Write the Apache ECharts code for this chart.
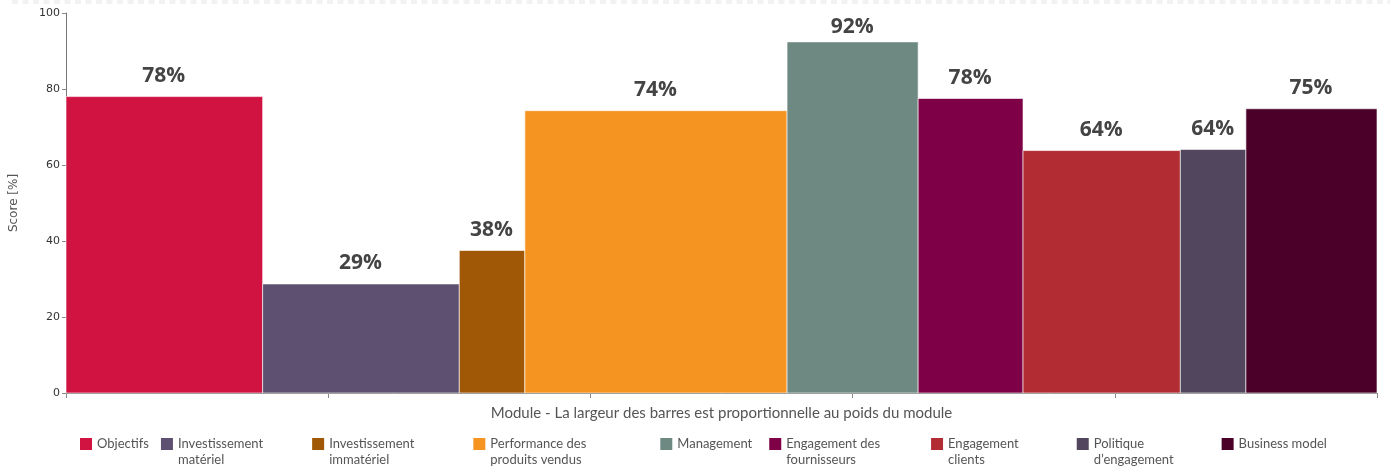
<!DOCTYPE html>
<html>
<head>
<meta charset="utf-8">
<script src="https://cdn.jsdelivr.net/npm/echarts@6/dist/echarts.min.js"></script>
<style>
  html, body { margin: 0; padding: 0; background: #fff; }
  #chart { width: 1390px; height: 468px; }
</style>
</head>
<body>
<div id="chart"></div>
<script>
// modules, weight (bar width, %) and score (%)
var modules = ['Objectifs', 'Investissement matériel', 'Investissement immatériel',
  'Performance des produits vendus', 'Management', 'Engagement des fournisseurs',
  'Engagement clients', 'Politique d\u2019engagement', 'Business model'];
var legendLines = [['Objectifs', ''], ['Investissement', 'matériel'], ['Investissement', 'immatériel'],
  ['Performance des', 'produits vendus'], ['Management', ''], ['Engagement des', 'fournisseurs'],
  ['Engagement', 'clients'], ['Politique', 'd\u2019engagement'], ['Business model', '']];
var weights = [15, 15, 5, 20, 10, 8, 12, 5, 10];
var scores = [78, 28.7, 37.5, 74.3, 92.4, 77.5, 63.8, 64.1, 74.8];
var colors = ['#d11341', '#5e5070', '#a05806', '#f59420', '#6d8981',
  '#7e0046', '#b22d33', '#52465e', '#4a0029'];
// extra room after each legend entry, to spread them like the original
var legendPad = [0, 37, 47, 62, 5, 39, 46, 36, 0];

var myChart = echarts.init(document.getElementById('chart'));

function renderBar(params, api) {
  var start = api.value(0), end = api.value(1), val = api.value(2);
  var p0 = api.coord([start, val]);
  var p1 = api.coord([end, 0]);
  var w = p1[0] - p0[0];
  // keep the label inside the plot when the bar is tall
  var labelY = Math.max(p0[1] - 20, 28);
  return {
    type: 'rect',
    shape: { x: p0[0], y: p0[1], width: w, height: p1[1] - p0[1] },
    style: { fill: api.visual('color'), stroke: 'rgba(255,255,255,0.6)', lineWidth: 1 },
    textContent: {
      style: {
        text: Math.round(val) + '%',
        fill: '#444',
        fontSize: 21,
        fontWeight: 'bold',
        fontFamily: 'Open Sans',
        align: 'center',
        verticalAlign: 'middle'
      }
    },
    textConfig: { position: [w / 2, labelY - p0[1]] }
  };
}

var series = [];
var acc = 0;
modules.forEach(function (name, i) {
  series.push({
    name: name,
    type: 'custom',
    renderItem: renderBar,
    itemStyle: { color: colors[i] },
    encode: { x: [0, 1], y: 2 },
    data: [[acc, acc + weights[i], scores[i]]]
  });
  acc += weights[i];
});

var option = {
  animation: false,
  grid: { left: 65, right: 13, top: 13, bottom: 75 },
  xAxis: {
    type: 'value',
    min: 0,
    max: 100,
    interval: 20,
    name: 'Module - La largeur des barres est proportionnelle au poids du module',
    nameLocation: 'middle',
    nameGap: 13,
    nameTextStyle: { color: '#555', fontSize: 15, fontFamily: 'Lato' },
    axisLine: { lineStyle: { color: '#777' } },
    axisTick: { show: true, length: 5, lineStyle: { color: '#888' } },
    axisLabel: { show: false },
    splitLine: { show: false }
  },
  yAxis: {
    type: 'value',
    min: 0,
    max: 100,
    interval: 20,
    name: 'Score [%]',
    nameLocation: 'middle',
    nameGap: 46,
    nameTextStyle: { color: '#555', fontSize: 12, fontFamily: 'DejaVu Sans' },
    axisLine: { show: true, lineStyle: { color: '#777' } },
    axisTick: { show: true, length: 4, lineStyle: { color: '#888' } },
    axisLabel: { color: '#333', fontSize: 11, fontFamily: 'DejaVu Sans', margin: 6 },
    splitLine: { show: false }
  },
  legend: {
    left: 75,
    top: 415,
    icon: 'rect',
    itemWidth: 12,
    itemHeight: 12,
    itemGap: 12,
    textStyle: { color: '#555', fontSize: 13, fontFamily: 'Lato', lineHeight: 16 },
    // an empty first line keeps the first text line level with the square
    formatter: function (name) {
      var l = legendLines[modules.indexOf(name)];
      return ' \n' + l[0] + '\n' + (l[1] || ' ');
    },
    data: modules.map(function (name, i) {
      return { name: name, textStyle: { padding: [0, legendPad[i], 0, 0] } };
    })
  },
  graphic: [{
    type: 'line',
    shape: { x1: 12, y1: 2, x2: 1390, y2: 2 },
    style: { stroke: '#f2f2f2', lineWidth: 4, lineDash: [6, 4.5] },
    silent: true
  }],
  series: series
};

myChart.setOption(option);
</script>
</body>
</html>
